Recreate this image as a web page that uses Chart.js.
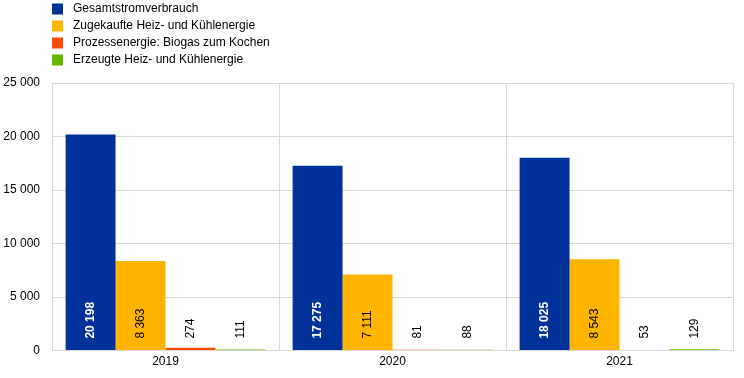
<!DOCTYPE html>
<html>
<head>
<meta charset="utf-8">
<script src="https://cdn.jsdelivr.net/npm/chart.js@4.4.1/dist/chart.umd.min.js"></script>
<style>
  html, body { margin: 0; padding: 0; background: #fff; }
  #wrap { width: 744px; height: 378px; }
</style>
</head>
<body>
<div id="wrap"><canvas id="chart" width="744" height="378"></canvas></div>
<script>
// data
const years = ["2019", "2020", "2021"];
const seriesNames = [
  "Gesamtstromverbrauch",
  "Zugekaufte Heiz- und Kühlenergie",
  "Prozessenergie: Biogas zum Kochen",
  "Erzeugte Heiz- und Kühlenergie"
];
const stromverbrauch = [20198, 17275, 18025];
const zugekauft = [8363, 7111, 8543];
const biogas = [274, 81, 53];
const erzeugt = [111, 88, 129];
const yTicks = [0, 5000, 10000, 15000, 20000, 25000];

const colors = ["#003299", "#FFB400", "#FF4B00", "#65B800"];
const gridColor = "#d9d9d9";
const fontFamily = "'Liberation Sans', Arial, sans-serif";

const fmt = v => String(v).replace(/\B(?=(\d{3})+(?!\d))/g, " ");

// legend drawn by hand, one item per row
const legendPlugin = {
  id: "rowLegend",
  afterDraw(chart) {
    const ctx = chart.ctx;
    ctx.save();
    ctx.font = "12px " + fontFamily;
    ctx.textBaseline = "middle";
    seriesNames.forEach((name, i) => {
      const y = 8.5 + i * 17;
      ctx.fillStyle = colors[i];
      ctx.fillRect(52, y - 5, 11, 11);
      ctx.fillStyle = "#000";
      ctx.fillText(name, 73, y);
    });
    ctx.restore();
  }
};

// vertical value labels starting just above the x axis
const valueLabels = {
  id: "valueLabels",
  afterDatasetsDraw(chart) {
    const ctx = chart.ctx;
    const bottom = chart.chartArea.bottom;
    ctx.save();
    chart.data.datasets.forEach((ds, di) => {
      const meta = chart.getDatasetMeta(di);
      meta.data.forEach((bar, i) => {
        ctx.save();
        ctx.translate(bar.x, bottom - 12);
        ctx.rotate(-Math.PI / 2);
        ctx.textAlign = "left";
        ctx.textBaseline = "middle";
        ctx.fillStyle = di === 0 ? "#fff" : "#000";
        ctx.font = (di === 0 ? "bold " : "") + "12px " + fontFamily;
        ctx.fillText(fmt(ds.data[i]), 0, 0);
        ctx.restore();
      });
    });
    ctx.restore();
  }
};

const allSeries = [stromverbrauch, zugekauft, biogas, erzeugt];

new Chart(document.getElementById("chart"), {
  type: "bar",
  data: {
    labels: years,
    datasets: allSeries.map((d, i) => ({
      label: seriesNames[i],
      data: d,
      backgroundColor: colors[i],
      categoryPercentage: 0.88,
      barPercentage: 1.0
    }))
  },
  options: {
    responsive: false,
    animation: false,
    layout: { padding: { top: 83, right: 11, left: 0, bottom: 5 } },
    plugins: {
      legend: { display: false },
      tooltip: { enabled: false }
    },
    scales: {
      x: {
        grid: { color: gridColor, offset: true, drawTicks: false },
        border: { color: gridColor },
        ticks: { color: "#000", font: { size: 12, family: fontFamily }, padding: 4 }
      },
      y: {
        min: 0,
        max: 25000,
        afterBuildTicks(scale) { scale.ticks = yTicks.map(v => ({ value: v })); },
        afterFit(scale) { scale.width = 52; },
        grid: { color: gridColor, drawTicks: false },
        border: { color: gridColor },
        ticks: {
          color: "#000",
          font: { size: 12, family: fontFamily },
          padding: 12,
          callback: v => fmt(v)
        }
      }
    }
  },
  plugins: [legendPlugin, valueLabels]
});
</script>
</body>
</html>
